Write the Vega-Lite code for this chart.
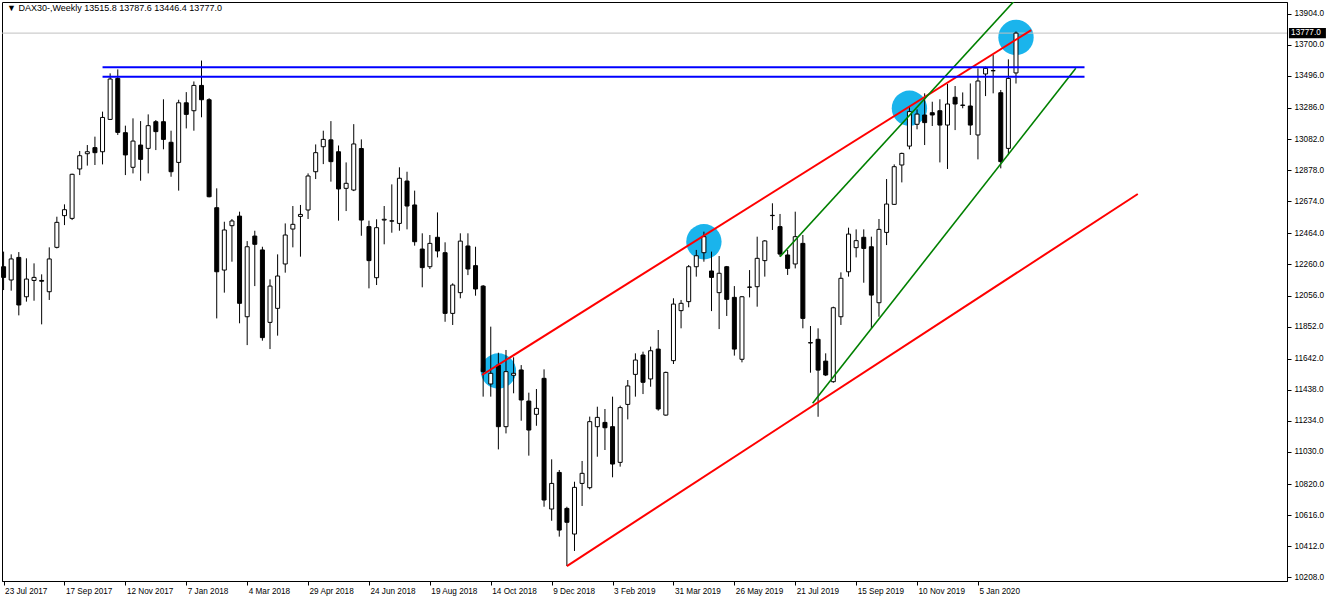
{
  "$schema": "https://vega.github.io/schema/vega-lite/v6.json",
  "width": 1285,
  "height": 579,
  "autosize": {"type": "none", "contains": "content"},
  "padding": {"left": 2, "top": 2, "right": 45, "bottom": 20},
  "background": "white",
  "title": {"text": "▼ DAX30-,Weekly  13515.8 13787.6 13446.4 13777.0", "anchor": "start", "frame": "group", "offset": -11, "dx": 5, "fontSize": 9, "fontWeight": "normal", "font": "Liberation Sans", "color": "black"},
  "datasets": {
    "candles": [
      {"d":"2017-07-23","o":12245,"h":12344,"l":12092,"c":12175},
      {"d":"2017-07-30","o":12158,"h":12326,"l":12088,"c":12296},
      {"d":"2017-08-06","o":12306,"h":12341,"l":11926,"c":11994},
      {"d":"2017-08-13","o":12048,"h":12300,"l":12016,"c":12164},
      {"d":"2017-08-20","o":12155,"h":12267,"l":12022,"c":12175},
      {"d":"2017-08-27","o":12155,"h":12195,"l":11867,"c":12150},
      {"d":"2017-09-03","o":12081,"h":12372,"l":12027,"c":12296},
      {"d":"2017-09-10","o":12372,"h":12573,"l":12365,"c":12536},
      {"d":"2017-09-17","o":12580,"h":12654,"l":12518,"c":12619},
      {"d":"2017-09-24","o":12562,"h":12855,"l":12551,"c":12851},
      {"d":"2017-10-01","o":12886,"h":13004,"l":12846,"c":12973},
      {"d":"2017-10-08","o":12986,"h":13043,"l":12908,"c":12999},
      {"d":"2017-10-15","o":13026,"h":13098,"l":12912,"c":12993},
      {"d":"2017-10-22","o":12999,"h":13262,"l":12916,"c":13224},
      {"d":"2017-10-29","o":13211,"h":13513,"l":13207,"c":13476},
      {"d":"2017-11-05","o":13480,"h":13539,"l":13109,"c":13126},
      {"d":"2017-11-12","o":13124,"h":13170,"l":12846,"c":12978},
      {"d":"2017-11-19","o":12897,"h":13218,"l":12857,"c":13069},
      {"d":"2017-11-26","o":13043,"h":13200,"l":12809,"c":12949},
      {"d":"2017-12-03","o":13021,"h":13244,"l":12857,"c":13170},
      {"d":"2017-12-10","o":13196,"h":13207,"l":13010,"c":13131},
      {"d":"2017-12-17","o":13196,"h":13343,"l":13015,"c":13080},
      {"d":"2017-12-24","o":13061,"h":13137,"l":12835,"c":12868},
      {"d":"2017-12-31","o":12929,"h":13340,"l":12744,"c":13320},
      {"d":"2018-01-07","o":13320,"h":13390,"l":13152,"c":13244},
      {"d":"2018-01-14","o":13268,"h":13460,"l":13137,"c":13434},
      {"d":"2018-01-21","o":13434,"h":13597,"l":13225,"c":13340},
      {"d":"2018-01-28","o":13340,"h":13350,"l":12700,"c":12704},
      {"d":"2018-02-04","o":12632,"h":12759,"l":11906,"c":12212},
      {"d":"2018-02-11","o":12223,"h":12540,"l":12075,"c":12486},
      {"d":"2018-02-18","o":12514,"h":12558,"l":12278,"c":12545},
      {"d":"2018-02-25","o":12577,"h":12606,"l":11874,"c":12005},
      {"d":"2018-03-04","o":11917,"h":12413,"l":11731,"c":12376},
      {"d":"2018-03-11","o":12446,"h":12481,"l":12118,"c":12392},
      {"d":"2018-03-18","o":12355,"h":12376,"l":11760,"c":11780},
      {"d":"2018-03-25","o":11880,"h":12162,"l":11705,"c":12118},
      {"d":"2018-04-01","o":11972,"h":12326,"l":11793,"c":12184},
      {"d":"2018-04-08","o":12263,"h":12529,"l":12206,"c":12453},
      {"d":"2018-04-15","o":12492,"h":12643,"l":12372,"c":12523},
      {"d":"2018-04-22","o":12575,"h":12650,"l":12311,"c":12588},
      {"d":"2018-04-29","o":12617,"h":12857,"l":12558,"c":12840},
      {"d":"2018-05-06","o":12868,"h":13047,"l":12820,"c":12993},
      {"d":"2018-05-13","o":13032,"h":13137,"l":12918,"c":13080},
      {"d":"2018-05-20","o":13077,"h":13200,"l":12803,"c":12934},
      {"d":"2018-05-27","o":12999,"h":13040,"l":12547,"c":12755},
      {"d":"2018-06-03","o":12759,"h":12929,"l":12610,"c":12792},
      {"d":"2018-06-10","o":12748,"h":13180,"l":12741,"c":13050},
      {"d":"2018-06-17","o":13020,"h":13080,"l":12448,"c":12551},
      {"d":"2018-06-24","o":12508,"h":12547,"l":12103,"c":12285},
      {"d":"2018-07-01","o":12173,"h":12556,"l":12125,"c":12501},
      {"d":"2018-07-08","o":12551,"h":12643,"l":12392,"c":12556},
      {"d":"2018-07-15","o":12546,"h":12785,"l":12468,"c":12544},
      {"d":"2018-07-22","o":12529,"h":12897,"l":12481,"c":12825},
      {"d":"2018-07-29","o":12807,"h":12868,"l":12490,"c":12643},
      {"d":"2018-08-05","o":12650,"h":12744,"l":12383,"c":12409},
      {"d":"2018-08-12","o":12361,"h":12464,"l":12110,"c":12239},
      {"d":"2018-08-19","o":12245,"h":12453,"l":12230,"c":12398},
      {"d":"2018-08-26","o":12438,"h":12601,"l":12306,"c":12348},
      {"d":"2018-09-02","o":12337,"h":12405,"l":11884,"c":11939},
      {"d":"2018-09-09","o":11939,"h":12136,"l":11863,"c":12125},
      {"d":"2018-09-16","o":12075,"h":12464,"l":12038,"c":12413},
      {"d":"2018-09-23","o":12381,"h":12464,"l":12190,"c":12230},
      {"d":"2018-09-30","o":12252,"h":12376,"l":12055,"c":12099},
      {"d":"2018-10-07","o":12118,"h":12125,"l":11393,"c":11557},
      {"d":"2018-10-14","o":11476,"h":11852,"l":11393,"c":11546},
      {"d":"2018-10-21","o":11600,"h":11681,"l":11047,"c":11196},
      {"d":"2018-10-28","o":11196,"h":11699,"l":11152,"c":11557},
      {"d":"2018-11-04","o":11533,"h":11651,"l":11415,"c":11546},
      {"d":"2018-11-11","o":11568,"h":11600,"l":11235,"c":11371},
      {"d":"2018-11-18","o":11364,"h":11419,"l":11006,"c":11174},
      {"d":"2018-11-25","o":11277,"h":11443,"l":11202,"c":11316},
      {"d":"2018-12-02","o":11513,"h":11572,"l":10671,"c":10715},
      {"d":"2018-12-09","o":10656,"h":10982,"l":10579,"c":10824},
      {"d":"2018-12-16","o":10896,"h":10912,"l":10475,"c":10518},
      {"d":"2018-12-23","o":10660,"h":10671,"l":10282,"c":10569},
      {"d":"2018-12-30","o":10492,"h":10835,"l":10381,"c":10798},
      {"d":"2019-01-06","o":10824,"h":10971,"l":10676,"c":10890},
      {"d":"2019-01-13","o":10796,"h":11262,"l":10785,"c":11229},
      {"d":"2019-01-20","o":11196,"h":11327,"l":10999,"c":11257},
      {"d":"2019-01-27","o":11224,"h":11312,"l":11043,"c":11189},
      {"d":"2019-02-03","o":11196,"h":11393,"l":10864,"c":10951},
      {"d":"2019-02-10","o":10962,"h":11334,"l":10934,"c":11321},
      {"d":"2019-02-17","o":11342,"h":11502,"l":11244,"c":11463},
      {"d":"2019-02-24","o":11539,"h":11677,"l":11393,"c":11633},
      {"d":"2019-03-03","o":11666,"h":11688,"l":11410,"c":11487},
      {"d":"2019-03-10","o":11509,"h":11721,"l":11458,"c":11694},
      {"d":"2019-03-17","o":11705,"h":11830,"l":11301,"c":11312},
      {"d":"2019-03-24","o":11272,"h":11557,"l":11268,"c":11552},
      {"d":"2019-03-31","o":11629,"h":12038,"l":11607,"c":12000},
      {"d":"2019-04-07","o":11957,"h":12027,"l":11841,"c":12005},
      {"d":"2019-04-14","o":12016,"h":12256,"l":11979,"c":12245},
      {"d":"2019-04-21","o":12245,"h":12355,"l":12180,"c":12317},
      {"d":"2019-04-28","o":12337,"h":12475,"l":12278,"c":12442},
      {"d":"2019-05-05","o":12217,"h":12344,"l":11954,"c":12175},
      {"d":"2019-05-12","o":12075,"h":12315,"l":11836,"c":12202},
      {"d":"2019-05-19","o":12245,"h":12250,"l":11922,"c":12031},
      {"d":"2019-05-26","o":12044,"h":12118,"l":11662,"c":11705},
      {"d":"2019-06-02","o":11638,"h":12053,"l":11618,"c":12048},
      {"d":"2019-06-09","o":12110,"h":12223,"l":12044,"c":12112},
      {"d":"2019-06-16","o":12114,"h":12442,"l":11983,"c":12300},
      {"d":"2019-06-23","o":12285,"h":12420,"l":12180,"c":12414},
      {"d":"2019-06-30","o":12580,"h":12661,"l":12486,"c":12582},
      {"d":"2019-07-07","o":12508,"h":12591,"l":12311,"c":12328},
      {"d":"2019-07-14","o":12322,"h":12355,"l":12191,"c":12234},
      {"d":"2019-07-21","o":12263,"h":12606,"l":12234,"c":12442},
      {"d":"2019-07-28","o":12398,"h":12453,"l":11841,"c":11906},
      {"d":"2019-08-04","o":11747,"h":11856,"l":11550,"c":11745},
      {"d":"2019-08-11","o":11769,"h":11841,"l":11261,"c":11567},
      {"d":"2019-08-18","o":11626,"h":11677,"l":11528,"c":11535},
      {"d":"2019-08-25","o":11491,"h":11983,"l":11484,"c":11976},
      {"d":"2019-09-01","o":11917,"h":12208,"l":11863,"c":12169},
      {"d":"2019-09-08","o":12212,"h":12501,"l":12180,"c":12459},
      {"d":"2019-09-15","o":12370,"h":12490,"l":12306,"c":12416},
      {"d":"2019-09-22","o":12438,"h":12490,"l":12140,"c":12365},
      {"d":"2019-09-29","o":12376,"h":12442,"l":11841,"c":12059},
      {"d":"2019-10-06","o":12009,"h":12558,"l":11917,"c":12490},
      {"d":"2019-10-13","o":12470,"h":12820,"l":12387,"c":12656},
      {"d":"2019-10-20","o":12654,"h":12916,"l":12650,"c":12901},
      {"d":"2019-10-27","o":12912,"h":12993,"l":12798,"c":12988},
      {"d":"2019-11-03","o":13036,"h":13294,"l":13015,"c":13262},
      {"d":"2019-11-10","o":13179,"h":13277,"l":13146,"c":13246},
      {"d":"2019-11-17","o":13240,"h":13382,"l":13043,"c":13190},
      {"d":"2019-11-24","o":13255,"h":13327,"l":13168,"c":13240},
      {"d":"2019-12-01","o":13268,"h":13343,"l":12929,"c":13174},
      {"d":"2019-12-08","o":13174,"h":13443,"l":12886,"c":13312},
      {"d":"2019-12-15","o":13356,"h":13430,"l":13141,"c":13312},
      {"d":"2019-12-22","o":13305,"h":13388,"l":13284,"c":13303},
      {"d":"2019-12-29","o":13299,"h":13447,"l":13109,"c":13174},
      {"d":"2020-01-05","o":13109,"h":13546,"l":12949,"c":13463},
      {"d":"2020-01-12","o":13509,"h":13557,"l":13364,"c":13546},
      {"d":"2020-01-19","o":13530,"h":13633,"l":13382,"c":13531},
      {"d":"2020-01-26","o":13386,"h":13404,"l":12890,"c":12934},
      {"d":"2020-02-02","o":13021,"h":13605,"l":12977,"c":13480},
      {"d":"2020-02-09","o":13515.8,"h":13787.6,"l":13446.4,"c":13777.0}
    ],
    "lines": [
      {"k":"red","d1":"2018-10-06","p1":11535,"d2":"2020-02-23","p2":13797},
      {"k":"red","d1":"2018-12-23","p1":10282,"d2":"2020-05-31","p2":12722},
      {"k":"green","d1":"2019-07-07","p1":12311,"d2":"2020-02-09","p2":14000},
      {"k":"green","d1":"2019-08-06","p1":11349,"d2":"2020-04-04","p2":13546},
      {"k":"blue","d1":"2017-10-22","p1":13553,"d2":"2020-04-12","p2":13553},
      {"k":"blue","d1":"2017-10-22","p1":13491,"d2":"2020-04-12","p2":13491}
    ],
    "circles": [
      {"d":"2018-10-21","p":11561},
      {"d":"2019-04-28","p":12409},
      {"d":"2019-11-03","p":13284},
      {"d":"2020-02-09","p":13749}
    ],
    "last": [
      {"d":"2020-10-17","d2":"2020-11-20","p":13777,"lo":13744,"hi":13810,"t":"13777.0","dt":"2020-10-19"}
    ]
  },
  "layer": [
    {
      "data": {"name": "circles"},
      "mark": {"type": "point", "shape": "circle", "filled": true, "size": 1250, "opacity": 1, "color": "#1ab4ec", "strokeWidth": 0},
      "encoding": {
        "x": {"field": "d", "type": "temporal", "scale": {"type": "utc", "padding": 0, "domain": [{"year":2017,"month":7,"date":21,"hours":13,"utc":true},{"year":2020,"month":10,"date":15,"hours":5,"utc":true}]},
          "axis": {"orient": "bottom", "values": [
            {"year":2017,"month":7,"date":23,"utc":true},{"year":2017,"month":9,"date":17,"utc":true},{"year":2017,"month":11,"date":12,"utc":true},
            {"year":2018,"month":1,"date":7,"utc":true},{"year":2018,"month":3,"date":4,"utc":true},{"year":2018,"month":4,"date":29,"utc":true},
            {"year":2018,"month":6,"date":24,"utc":true},{"year":2018,"month":8,"date":19,"utc":true},{"year":2018,"month":10,"date":14,"utc":true},
            {"year":2018,"month":12,"date":9,"utc":true},{"year":2019,"month":2,"date":3,"utc":true},{"year":2019,"month":3,"date":31,"utc":true},
            {"year":2019,"month":5,"date":26,"utc":true},{"year":2019,"month":7,"date":21,"utc":true},{"year":2019,"month":9,"date":15,"utc":true},
            {"year":2019,"month":11,"date":10,"utc":true},{"year":2020,"month":1,"date":5,"utc":true}],
            "format": "%-d %b %Y", "labelAlign": "left", "labelBaseline": "top", "labelOffset": 1, "labelPadding": 2, "tickSize": 4,
            "labelOverlap": false, "labelFlush": false, "grid": false, "title": null}},
        "y": {"field": "p", "type": "quantitative", "scale": {"domain": [10184, 13981], "nice": false, "zero": false, "padding": 0},
          "axis": {"orient": "right", "values": [13904,13700,13496,13286,13082,12878,12674,12464,12260,12056,11852,11642,11438,11234,11030,10820,10616,10412,10208],
            "format": ".1f", "tickSize": 4, "labelPadding": 3, "labelOverlap": false, "grid": false, "title": null}}
      }
    },
    {
      "data": {"name": "last"},
      "mark": {"type": "rule", "color": "#c0c0c0", "strokeWidth": 1},
      "encoding": {
        "y": {"field": "p", "type": "quantitative", "scale": {"domain": [10184, 13981], "nice": false, "zero": false, "padding": 0},
          "axis": {"orient": "right", "values": [13904,13700,13496,13286,13082,12878,12674,12464,12260,12056,11852,11642,11438,11234,11030,10820,10616,10412,10208],
            "format": ".1f", "tickSize": 4, "labelPadding": 3, "labelOverlap": false, "grid": false, "title": null}}
      }
    },
    {
      "data": {"name": "candles"},
      "mark": {"type": "rule", "color": "black", "strokeWidth": 1},
      "encoding": {
        "x": {"field": "d", "type": "temporal", "scale": {"type": "utc", "padding": 0, "domain": [{"year":2017,"month":7,"date":21,"hours":13,"utc":true},{"year":2020,"month":10,"date":15,"hours":5,"utc":true}]},
          "axis": {"orient": "bottom", "values": [
            {"year":2017,"month":7,"date":23,"utc":true},{"year":2017,"month":9,"date":17,"utc":true},{"year":2017,"month":11,"date":12,"utc":true},
            {"year":2018,"month":1,"date":7,"utc":true},{"year":2018,"month":3,"date":4,"utc":true},{"year":2018,"month":4,"date":29,"utc":true},
            {"year":2018,"month":6,"date":24,"utc":true},{"year":2018,"month":8,"date":19,"utc":true},{"year":2018,"month":10,"date":14,"utc":true},
            {"year":2018,"month":12,"date":9,"utc":true},{"year":2019,"month":2,"date":3,"utc":true},{"year":2019,"month":3,"date":31,"utc":true},
            {"year":2019,"month":5,"date":26,"utc":true},{"year":2019,"month":7,"date":21,"utc":true},{"year":2019,"month":9,"date":15,"utc":true},
            {"year":2019,"month":11,"date":10,"utc":true},{"year":2020,"month":1,"date":5,"utc":true}],
            "format": "%-d %b %Y", "labelAlign": "left", "labelBaseline": "top", "labelOffset": 1, "labelPadding": 2, "tickSize": 4,
            "labelOverlap": false, "labelFlush": false, "grid": false, "title": null}},
        "y": {"field": "l", "type": "quantitative", "scale": {"domain": [10184, 13981], "nice": false, "zero": false, "padding": 0},
          "axis": {"orient": "right", "values": [13904,13700,13496,13286,13082,12878,12674,12464,12260,12056,11852,11642,11438,11234,11030,10820,10616,10412,10208],
            "format": ".1f", "tickSize": 4, "labelPadding": 3, "labelOverlap": false, "grid": false, "title": null}},
        "y2": {"field": "h"}
      }
    },
    {
      "data": {"name": "candles"},
      "mark": {"type": "bar", "size": 4, "stroke": "black", "strokeWidth": 1},
      "encoding": {
        "x": {"field": "d", "type": "temporal", "scale": {"type": "utc", "padding": 0, "domain": [{"year":2017,"month":7,"date":21,"hours":13,"utc":true},{"year":2020,"month":10,"date":15,"hours":5,"utc":true}]},
          "axis": {"orient": "bottom", "values": [
            {"year":2017,"month":7,"date":23,"utc":true},{"year":2017,"month":9,"date":17,"utc":true},{"year":2017,"month":11,"date":12,"utc":true},
            {"year":2018,"month":1,"date":7,"utc":true},{"year":2018,"month":3,"date":4,"utc":true},{"year":2018,"month":4,"date":29,"utc":true},
            {"year":2018,"month":6,"date":24,"utc":true},{"year":2018,"month":8,"date":19,"utc":true},{"year":2018,"month":10,"date":14,"utc":true},
            {"year":2018,"month":12,"date":9,"utc":true},{"year":2019,"month":2,"date":3,"utc":true},{"year":2019,"month":3,"date":31,"utc":true},
            {"year":2019,"month":5,"date":26,"utc":true},{"year":2019,"month":7,"date":21,"utc":true},{"year":2019,"month":9,"date":15,"utc":true},
            {"year":2019,"month":11,"date":10,"utc":true},{"year":2020,"month":1,"date":5,"utc":true}],
            "format": "%-d %b %Y", "labelAlign": "left", "labelBaseline": "top", "labelOffset": 1, "labelPadding": 2, "tickSize": 4,
            "labelOverlap": false, "labelFlush": false, "grid": false, "title": null}},
        "y": {"field": "o", "type": "quantitative", "scale": {"domain": [10184, 13981], "nice": false, "zero": false, "padding": 0},
          "axis": {"orient": "right", "values": [13904,13700,13496,13286,13082,12878,12674,12464,12260,12056,11852,11642,11438,11234,11030,10820,10616,10412,10208],
            "format": ".1f", "tickSize": 4, "labelPadding": 3, "labelOverlap": false, "grid": false, "title": null}},
        "y2": {"field": "c"},
        "fill": {"condition": {"test": "datum.c >= datum.o", "value": "white"}, "value": "black"}
      }
    },
    {
      "data": {"name": "lines"},
      "mark": {"type": "rule", "clip": true},
      "encoding": {
        "x": {"field": "d1", "type": "temporal", "scale": {"type": "utc", "padding": 0, "domain": [{"year":2017,"month":7,"date":21,"hours":13,"utc":true},{"year":2020,"month":10,"date":15,"hours":5,"utc":true}]},
          "axis": {"orient": "bottom", "values": [
            {"year":2017,"month":7,"date":23,"utc":true},{"year":2017,"month":9,"date":17,"utc":true},{"year":2017,"month":11,"date":12,"utc":true},
            {"year":2018,"month":1,"date":7,"utc":true},{"year":2018,"month":3,"date":4,"utc":true},{"year":2018,"month":4,"date":29,"utc":true},
            {"year":2018,"month":6,"date":24,"utc":true},{"year":2018,"month":8,"date":19,"utc":true},{"year":2018,"month":10,"date":14,"utc":true},
            {"year":2018,"month":12,"date":9,"utc":true},{"year":2019,"month":2,"date":3,"utc":true},{"year":2019,"month":3,"date":31,"utc":true},
            {"year":2019,"month":5,"date":26,"utc":true},{"year":2019,"month":7,"date":21,"utc":true},{"year":2019,"month":9,"date":15,"utc":true},
            {"year":2019,"month":11,"date":10,"utc":true},{"year":2020,"month":1,"date":5,"utc":true}],
            "format": "%-d %b %Y", "labelAlign": "left", "labelBaseline": "top", "labelOffset": 1, "labelPadding": 2, "tickSize": 4,
            "labelOverlap": false, "labelFlush": false, "grid": false, "title": null}},
        "x2": {"field": "d2"},
        "y": {"field": "p1", "type": "quantitative", "scale": {"domain": [10184, 13981], "nice": false, "zero": false, "padding": 0},
          "axis": {"orient": "right", "values": [13904,13700,13496,13286,13082,12878,12674,12464,12260,12056,11852,11642,11438,11234,11030,10820,10616,10412,10208],
            "format": ".1f", "tickSize": 4, "labelPadding": 3, "labelOverlap": false, "grid": false, "title": null}},
        "y2": {"field": "p2"},
        "color": {"field": "k", "type": "nominal", "scale": {"domain": ["red", "green", "blue"], "range": ["#ff0000", "#008000", "#0000ff"]}, "legend": null},
        "strokeWidth": {"condition": {"test": "datum.k == 'green'", "value": 1.6}, "value": 2}
      }
    },
    {
      "data": {"name": "last"},
      "mark": {"type": "rect", "color": "black", "clip": false},
      "encoding": {
        "x": {"field": "d", "type": "temporal", "scale": {"type": "utc", "padding": 0, "domain": [{"year":2017,"month":7,"date":21,"hours":13,"utc":true},{"year":2020,"month":10,"date":15,"hours":5,"utc":true}]},
          "axis": {"orient": "bottom", "values": [
            {"year":2017,"month":7,"date":23,"utc":true},{"year":2017,"month":9,"date":17,"utc":true},{"year":2017,"month":11,"date":12,"utc":true},
            {"year":2018,"month":1,"date":7,"utc":true},{"year":2018,"month":3,"date":4,"utc":true},{"year":2018,"month":4,"date":29,"utc":true},
            {"year":2018,"month":6,"date":24,"utc":true},{"year":2018,"month":8,"date":19,"utc":true},{"year":2018,"month":10,"date":14,"utc":true},
            {"year":2018,"month":12,"date":9,"utc":true},{"year":2019,"month":2,"date":3,"utc":true},{"year":2019,"month":3,"date":31,"utc":true},
            {"year":2019,"month":5,"date":26,"utc":true},{"year":2019,"month":7,"date":21,"utc":true},{"year":2019,"month":9,"date":15,"utc":true},
            {"year":2019,"month":11,"date":10,"utc":true},{"year":2020,"month":1,"date":5,"utc":true}],
            "format": "%-d %b %Y", "labelAlign": "left", "labelBaseline": "top", "labelOffset": 1, "labelPadding": 2, "tickSize": 4,
            "labelOverlap": false, "labelFlush": false, "grid": false, "title": null}},
        "x2": {"field": "d2"},
        "y": {"field": "lo", "type": "quantitative", "scale": {"domain": [10184, 13981], "nice": false, "zero": false, "padding": 0},
          "axis": {"orient": "right", "values": [13904,13700,13496,13286,13082,12878,12674,12464,12260,12056,11852,11642,11438,11234,11030,10820,10616,10412,10208],
            "format": ".1f", "tickSize": 4, "labelPadding": 3, "labelOverlap": false, "grid": false, "title": null}},
        "y2": {"field": "hi"}
      }
    },
    {
      "data": {"name": "last"},
      "mark": {"type": "text", "align": "left", "baseline": "middle", "color": "white", "fontSize": 8.2, "font": "Liberation Sans", "clip": false},
      "encoding": {
        "x": {"field": "dt", "type": "temporal", "scale": {"type": "utc", "padding": 0, "domain": [{"year":2017,"month":7,"date":21,"hours":13,"utc":true},{"year":2020,"month":10,"date":15,"hours":5,"utc":true}]},
          "axis": {"orient": "bottom", "values": [
            {"year":2017,"month":7,"date":23,"utc":true},{"year":2017,"month":9,"date":17,"utc":true},{"year":2017,"month":11,"date":12,"utc":true},
            {"year":2018,"month":1,"date":7,"utc":true},{"year":2018,"month":3,"date":4,"utc":true},{"year":2018,"month":4,"date":29,"utc":true},
            {"year":2018,"month":6,"date":24,"utc":true},{"year":2018,"month":8,"date":19,"utc":true},{"year":2018,"month":10,"date":14,"utc":true},
            {"year":2018,"month":12,"date":9,"utc":true},{"year":2019,"month":2,"date":3,"utc":true},{"year":2019,"month":3,"date":31,"utc":true},
            {"year":2019,"month":5,"date":26,"utc":true},{"year":2019,"month":7,"date":21,"utc":true},{"year":2019,"month":9,"date":15,"utc":true},
            {"year":2019,"month":11,"date":10,"utc":true},{"year":2020,"month":1,"date":5,"utc":true}],
            "format": "%-d %b %Y", "labelAlign": "left", "labelBaseline": "top", "labelOffset": 1, "labelPadding": 2, "tickSize": 4,
            "labelOverlap": false, "labelFlush": false, "grid": false, "title": null}},
        "y": {"field": "p", "type": "quantitative", "scale": {"domain": [10184, 13981], "nice": false, "zero": false, "padding": 0},
          "axis": {"orient": "right", "values": [13904,13700,13496,13286,13082,12878,12674,12464,12260,12056,11852,11642,11438,11234,11030,10820,10616,10412,10208],
            "format": ".1f", "tickSize": 4, "labelPadding": 3, "labelOverlap": false, "grid": false, "title": null}},
        "text": {"field": "t"}
      }
    }
  ],
  "config": {
    "view": {"stroke": "black", "strokeWidth": 1},
    "scale": {"continuousPadding": 0},
    "axis": {"labelFont": "Liberation Sans", "labelFontSize": 8.2, "labelColor": "black", "tickColor": "black", "domainColor": "black", "tickWidth": 1, "domainWidth": 1}
  }
}
